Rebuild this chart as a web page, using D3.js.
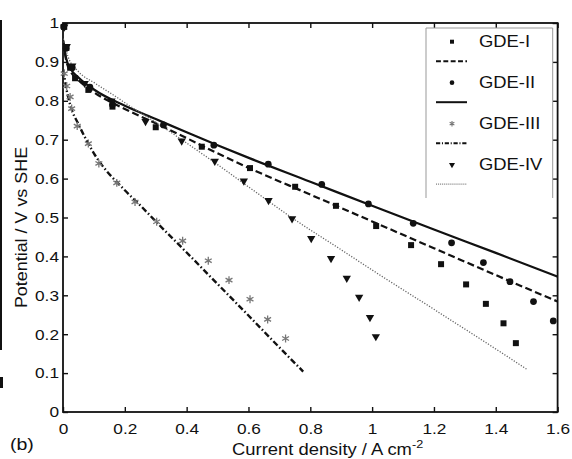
<!DOCTYPE html>
<html>
<head>
<meta charset="utf-8">
<script src="https://cdn.jsdelivr.net/npm/d3@7"></script>
<style>
  html, body { margin: 0; padding: 0; background: #fff; }
  svg { display: block; }
  text { font-family: "Liberation Sans", Arial, Helvetica, sans-serif; fill: #111; }
</style>
</head>
<body>
<svg id="chart" width="572" height="459"></svg>
<script>
// Measured polarization data: [current density (A cm^-2), potential (V vs SHE)]
const gde1Points = [[0.004,0.99],[0.011,0.936],[0.023,0.885],[0.039,0.858],[0.082,0.828],[0.160,0.785],[0.300,0.732],[0.449,0.682],[0.605,0.627],[0.751,0.579],[0.883,0.530],[1.013,0.478],[1.126,0.429],[1.223,0.380],[1.304,0.328],[1.368,0.278],[1.425,0.228],[1.465,0.177]];
const gde2Points = [[0.002,0.99],[0.010,0.935],[0.030,0.885],[0.087,0.835],[0.160,0.790],[0.325,0.738],[0.488,0.686],[0.664,0.637],[0.837,0.585],[0.988,0.535],[1.133,0.485],[1.257,0.435],[1.360,0.384],[1.446,0.335],[1.522,0.284],[1.586,0.234]];
const gde3Points = [[0.004,0.87],[0.012,0.838],[0.023,0.81],[0.028,0.78],[0.046,0.735],[0.082,0.69],[0.116,0.639],[0.174,0.589],[0.233,0.54],[0.303,0.489],[0.387,0.44],[0.470,0.389],[0.537,0.339],[0.605,0.290],[0.662,0.238],[0.720,0.189]];
const gde4Points = [[0.004,0.99],[0.012,0.94],[0.030,0.89],[0.070,0.845],[0.157,0.80],[0.267,0.747],[0.384,0.697],[0.491,0.645],[0.585,0.594],[0.665,0.544],[0.741,0.497],[0.803,0.446],[0.867,0.395],[0.918,0.344],[0.958,0.295],[0.993,0.243],[1.012,0.194]];

// Model curves
const gde1Fit = [[0.001,0.95],[0.01,0.905],[0.025,0.875],[0.05,0.853],[0.1,0.822],[0.2,0.779],[0.3,0.742],[0.4,0.704],[0.5,0.665],[0.605,0.626],[0.8,0.559],[1.0,0.490],[1.2,0.421],[1.4,0.352],[1.6,0.284]];
const gde2Fit = [[0.001,0.955],[0.01,0.91],[0.025,0.882],[0.05,0.86],[0.1,0.829],[0.2,0.787],[0.3,0.753],[0.4,0.719],[0.5,0.686],[0.605,0.652],[0.8,0.592],[1.0,0.530],[1.2,0.469],[1.4,0.409],[1.6,0.348]];
const gde3Fit = [[0.001,0.88],[0.01,0.835],[0.025,0.785],[0.05,0.74],[0.1,0.665],[0.2,0.57],[0.249,0.532],[0.3,0.49],[0.4,0.41],[0.5,0.329],[0.6,0.248],[0.7,0.166],[0.777,0.104]];
const gde4Fit = [[0.001,0.96],[0.016,0.914],[0.05,0.875],[0.104,0.845],[0.163,0.815],[0.217,0.786],[0.3,0.745],[0.384,0.70],[0.5,0.636],[0.605,0.576],[0.745,0.497],[0.9,0.417],[1.0,0.365],[1.2,0.264],[1.4,0.162],[1.5,0.110]];

const seriesNames = ["GDE-I", "GDE-II", "GDE-III", "GDE-IV"];
const xTicks = [0, 0.2, 0.4, 0.6, 0.8, 1, 1.2, 1.4, 1.6];
const yTicks = [0, 0.1, 0.2, 0.3, 0.4, 0.5, 0.6, 0.7, 0.8, 0.9, 1];

const svg = d3.select("#chart");
const plotL = 63, plotR = 557.6, plotT = 23, plotB = 412;
const stretch = 1.15;

const x = d3.scaleLinear().domain([0, 1.6]).range([plotL, plotR]);
const y = d3.scaleLinear().domain([0, 1]).range([plotB, plotT]);

const fmt = d => (d === 0 || d === 1) ? String(d) : d.toFixed(1);

// Edge strip on the left of the panel
svg.append("line").attr("x1", 1).attr("x2", 1).attr("y1", 20).attr("y2", 350)
  .attr("stroke", "#111").attr("stroke-width", 2);
svg.append("line").attr("x1", 1.5).attr("x2", 1.5).attr("y1", 377).attr("y2", 388)
  .attr("stroke", "#111").attr("stroke-width", 3);

// Axes with inward ticks on all four sides
const axisStyle = g => {
  g.select(".domain").remove();
  g.selectAll(".tick line").attr("stroke", "#111").attr("stroke-width", 1.4);
};
const labelStyle = g => g.selectAll("text").attr("font-size", 15).attr("fill", "#111")
  .attr("font-family", "Liberation Sans, Arial, sans-serif")
  .attr("transform", `scale(${stretch},1)`);

svg.append("g").attr("transform", `translate(0,${plotB})`)
  .call(d3.axisBottom(x).tickValues(xTicks).tickFormat(fmt).tickSizeInner(-5).tickSizeOuter(0).tickPadding(11))
  .call(axisStyle).call(labelStyle);
svg.append("g").attr("transform", `translate(${plotL},0)`)
  .call(d3.axisLeft(y).tickValues(yTicks).tickFormat(fmt).tickSizeInner(-5).tickSizeOuter(0).tickPadding(3.5))
  .call(axisStyle).call(labelStyle);
svg.append("g").attr("transform", `translate(0,${plotT})`)
  .call(d3.axisTop(x).tickValues(xTicks).tickFormat("").tickSizeInner(-5).tickSizeOuter(0))
  .call(axisStyle);
svg.append("g").attr("transform", `translate(${plotR},0)`)
  .call(d3.axisRight(y).tickValues(yTicks).tickFormat("").tickSizeInner(-5).tickSizeOuter(0))
  .call(axisStyle);

svg.append("rect").attr("x", plotL).attr("y", plotT)
  .attr("width", plotR - plotL).attr("height", plotB - plotT)
  .attr("fill", "none").attr("stroke", "#111").attr("stroke-width", 1.8);

// Clip for curves
svg.append("clipPath").attr("id", "plotClip").append("rect")
  .attr("x", plotL).attr("y", plotT).attr("width", plotR - plotL).attr("height", plotB - plotT);

const line = d3.line().x(d => x(d[0])).y(d => y(d[1])).curve(d3.curveMonotoneX);

const lineStyles = [
  { data: gde1Fit, dash: "7,3.5", width: 2.2, color: "#111" },
  { data: gde2Fit, dash: null, width: 2.2, color: "#111" },
  { data: gde3Fit, dash: "6,2.5,1.5,2.5", width: 2.4, color: "#111" },
  { data: gde4Fit, dash: "1.2,1.6", width: 1.3, color: "#666" }
];
const curves = svg.append("g").attr("clip-path", "url(#plotClip)");
lineStyles.forEach(s => {
  curves.append("path").datum(s.data).attr("d", line)
    .attr("fill", "none").attr("stroke", s.color).attr("stroke-width", s.width)
    .attr("stroke-dasharray", s.dash);
});

// Markers
const markerDefs = [
  { data: gde1Points, type: d3.symbolSquare, size: 36, legendSize: 16, fill: "#111", stroke: "none", rotate: 0 },
  { data: gde2Points, type: d3.symbolCircle, size: 36, legendSize: 17, fill: "#111", stroke: "none", rotate: 0 },
  { data: gde3Points, type: d3.symbolAsterisk, size: 44, legendSize: 20, fill: "none", stroke: "#777", rotate: 0 },
  { data: gde4Points, type: d3.symbolTriangle, size: 30, legendSize: 16, fill: "#111", stroke: "none", rotate: 180 }
];
markerDefs.forEach(m => {
  svg.append("g").selectAll("path").data(m.data).join("path")
    .attr("d", d3.symbol().type(m.type).size(m.size))
    .attr("transform", d => `translate(${x(d[0])},${y(d[1])}) rotate(${m.rotate})`)
    .attr("fill", m.fill).attr("stroke", m.stroke).attr("stroke-width", 1.3);
});

// Legend
const lg = svg.append("g");
lg.append("rect").attr("x", 426).attr("y", 28).attr("width", 126.7).attr("height", 175).attr("fill", "#fff");
lg.append("path").attr("d", "M426,198 V28 H552.7 V198")
  .attr("fill", "none").attr("stroke", "#999").attr("stroke-width", 1);
seriesNames.forEach((name, i) => {
  const base = 46.7 + i * 41;
  const m = markerDefs[i], s = lineStyles[i];
  lg.append("path")
    .attr("d", d3.symbol().type(m.type).size(m.legendSize))
    .attr("transform", `translate(452,${base - 5}) rotate(${m.rotate})`)
    .attr("fill", m.fill).attr("stroke", m.stroke).attr("stroke-width", 1.1);
  lg.append("g").attr("transform", `translate(479,${base}) scale(${stretch},1)`)
    .append("text").attr("font-size", 16).text(name);
  lg.append("line").attr("x1", 436).attr("x2", 467).attr("y1", base + 14.5).attr("y2", base + 14.5)
    .attr("stroke", s.color).attr("stroke-width", Math.min(s.width, 2))
    .attr("stroke-dasharray", s.dash ? s.dash.split(",").map(v => +v * 0.7).join(",") : null);
});

// Axis titles
const xt = svg.append("g").attr("transform", `translate(232,454.5) scale(${stretch},1)`)
  .append("text").attr("font-size", 16);
xt.append("tspan").text("Current density / A cm");
xt.append("tspan").attr("font-size", 11).attr("dy", -7).text("-2");

svg.append("g").attr("transform", `translate(26.5,227.5) rotate(-90) scale(1.12,1)`)
  .append("text").attr("font-size", 16).attr("text-anchor", "middle").text("Potential / V vs SHE");

svg.append("g").attr("transform", `translate(10,450) scale(${stretch},1)`)
  .append("text").attr("font-size", 17).text("(b)");
</script>
</body>
</html>
